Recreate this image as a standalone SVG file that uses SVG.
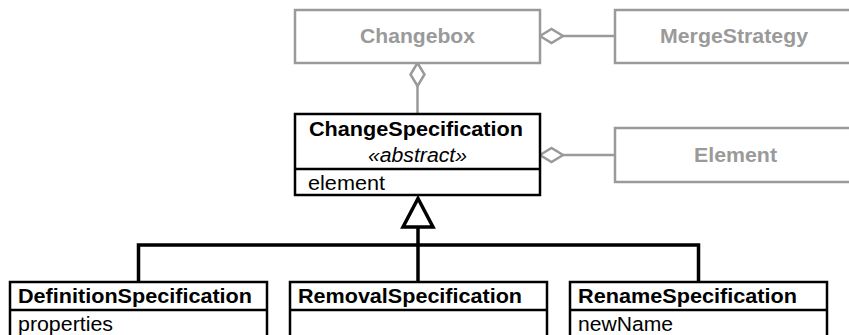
<svg xmlns="http://www.w3.org/2000/svg" width="849" height="335" viewBox="0 0 849 335">
  <defs>
    <style>
      .gbox { fill: #fff; stroke: #9a9a9a; stroke-width: 2.5; }
      .gtxt { font-family: "Liberation Sans", Arial, sans-serif; font-weight: bold; font-size: 20.5px; fill: #9a9a9a; text-anchor: middle; }
      .bbox { fill: #fff; stroke: #000; stroke-width: 2.5; }
      .bdiv { stroke: #000; stroke-width: 2.5; }
      .title { font-family: "Liberation Sans", Arial, sans-serif; font-weight: bold; font-size: 20.5px; fill: #000; }
      .attr { font-family: "Liberation Sans", Arial, sans-serif; font-size: 20.5px; fill: #000; }
      .gline { fill: none; stroke: #9a9a9a; stroke-width: 2.5; }
      .gdiam { fill: #fff; stroke: #9a9a9a; stroke-width: 2.5; stroke-linejoin: miter; }
      .bline { fill: none; stroke: #000; stroke-width: 3.5; }
      .btri { fill: #fff; stroke: #000; stroke-width: 3.5; stroke-linejoin: miter; }
    </style>
  </defs>

  <!-- connectors -->
  <g id="connectors">
    <!-- Changebox <>- MergeStrategy -->
    <line class="gline" x1="563" y1="36" x2="615" y2="36"/>
    <polygon class="gdiam" points="540,36 551.5,29 563,36 551.5,43"/>
    <!-- Changebox <>- ChangeSpecification -->
    <line class="gline" x1="417.5" y1="86" x2="417.5" y2="114"/>
    <polygon class="gdiam" points="417.5,63 424.5,74.5 417.5,86 410.5,74.5"/>
    <!-- ChangeSpecification <>- Element -->
    <line class="gline" x1="563" y1="155" x2="615" y2="155"/>
    <polygon class="gdiam" points="540,155 551.5,148 563,155 551.5,162"/>
    <!-- generalization tree -->
    <polyline class="bline" points="138.5,282 138.5,245 698.5,245 698.5,282"/>
    <line class="bline" x1="418" y1="227" x2="418" y2="282"/>
    <polygon class="btri" points="418,198.5 433,227 403,227"/>
  </g>

  <g id="changebox">
    <rect class="gbox" x="295" y="10" width="245" height="53"/>
    <text class="gtxt" x="417.5" y="43" textLength="115" lengthAdjust="spacingAndGlyphs">Changebox</text>
  </g>

  <g id="merge-strategy">
    <rect class="gbox" x="615" y="10" width="245" height="53"/>
    <text class="gtxt" x="734" y="43" textLength="148" lengthAdjust="spacingAndGlyphs">MergeStrategy</text>
  </g>

  <g id="element">
    <rect class="gbox" x="615" y="128" width="245" height="54"/>
    <text class="gtxt" x="735.5" y="162" textLength="83" lengthAdjust="spacingAndGlyphs">Element</text>
  </g>

  <g id="change-specification">
    <rect class="bbox" x="295" y="114" width="245" height="81"/>
    <line class="bdiv" x1="295" y1="169" x2="540" y2="169"/>
    <text class="title" x="416" y="136" text-anchor="middle" textLength="214" lengthAdjust="spacingAndGlyphs">ChangeSpecification</text>
    <text class="attr" x="417.5" y="161.5" text-anchor="middle" font-style="italic" textLength="99" lengthAdjust="spacingAndGlyphs">«abstract»</text>
    <text class="attr" x="308" y="190" textLength="77" lengthAdjust="spacingAndGlyphs">element</text>
  </g>

  <g id="definition-specification">
    <rect class="bbox" x="10" y="282" width="257" height="80"/>
    <line class="bdiv" x1="10" y1="310" x2="267" y2="310"/>
    <text class="title" x="18" y="303" textLength="234" lengthAdjust="spacingAndGlyphs">DefinitionSpecification</text>
    <text class="attr" x="18" y="331" textLength="95" lengthAdjust="spacingAndGlyphs">properties</text>
  </g>

  <g id="removal-specification">
    <rect class="bbox" x="290" y="282" width="257" height="80"/>
    <line class="bdiv" x1="290" y1="310" x2="547" y2="310"/>
    <text class="title" x="298" y="303" textLength="224" lengthAdjust="spacingAndGlyphs">RemovalSpecification</text>
  </g>

  <g id="rename-specification">
    <rect class="bbox" x="570" y="282" width="257" height="80"/>
    <line class="bdiv" x1="570" y1="310" x2="827" y2="310"/>
    <text class="title" x="578" y="303" textLength="219" lengthAdjust="spacingAndGlyphs">RenameSpecification</text>
    <text class="attr" x="578" y="331" textLength="95" lengthAdjust="spacingAndGlyphs">newName</text>
  </g>
</svg>
